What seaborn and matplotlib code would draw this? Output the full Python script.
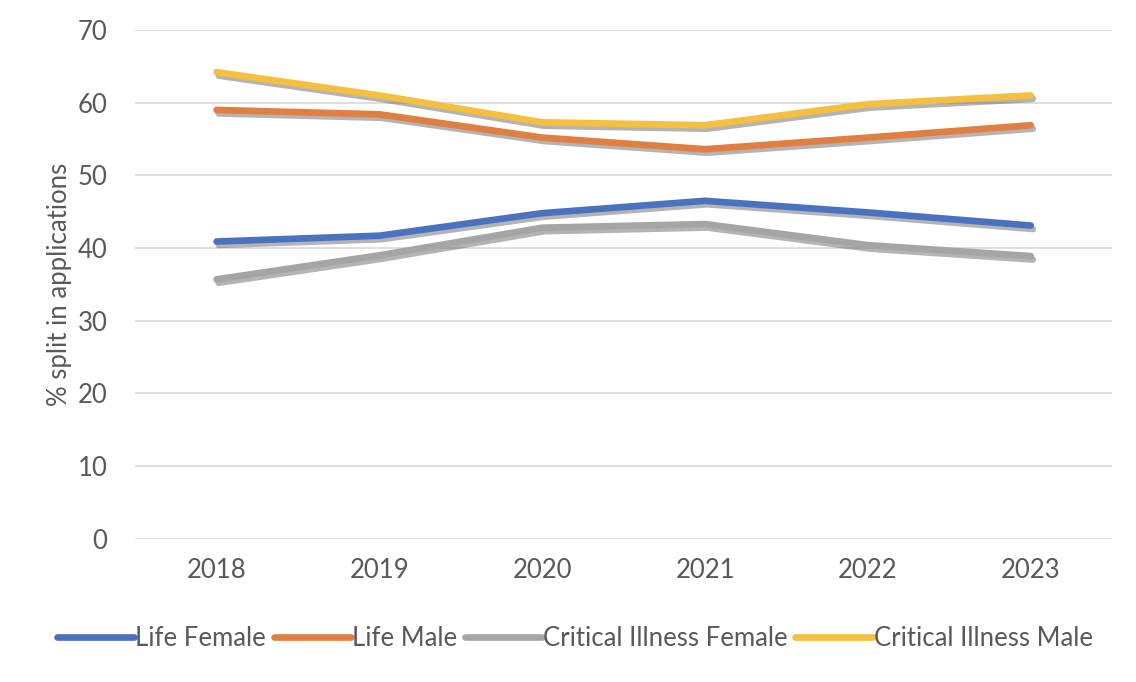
import pandas as pd
import matplotlib
matplotlib.use("Agg")
import matplotlib.pyplot as plt
import matplotlib.patheffects as pe
import seaborn as sns

years = ["2018", "2019", "2020", "2021", "2022", "2023"]
life_female = [40.9, 41.7, 44.8, 46.5, 44.9, 43.1]
life_male = [59.0, 58.4, 55.2, 53.6, 55.2, 56.9]
ci_female = [35.7, 39.0, 42.8, 43.3, 40.4, 38.9]
ci_male = [64.2, 61.0, 57.3, 56.9, 59.8, 61.0]

series = ["Life Female", "Life Male", "Critical Illness Female", "Critical Illness Male"]
colors = ["#4a72c1", "#e07f40", "#a5a5a5", "#f5bf40"]

rows = []
for name, vals in zip(series, [life_female, life_male, ci_female, ci_male]):
    for i, (yr, v) in enumerate(zip(years, vals)):
        rows.append({"idx": i, "Year": yr, "Series": name, "Value": v})
df = pd.DataFrame(rows)

sns.set_theme(style="white")
plt.rcParams["font.family"] = ["Lato", "DejaVu Sans"]

fig = plt.figure(figsize=(11.36, 6.82), dpi=100)
ax = fig.add_axes([0.119, 0.21, 0.86, 0.746])

sns.lineplot(data=df, x="idx", y="Value", hue="Series", hue_order=series,
             palette=colors, linewidth=4.8, ax=ax, legend=True)

# soft drop shadow like the original
for line in ax.get_lines():
    line.set_path_effects([pe.SimpleLineShadow(offset=(1.5, -2.5), shadow_color="#444444", alpha=0.4),
                           pe.Normal()])
    line.set_solid_capstyle("round")

ax.set_xlim(-0.5, 5.5)
ax.set_ylim(0, 70)
ax.set_yticks(range(0, 71, 10))
ax.set_xticks(range(len(years)))
ax.set_xticklabels(years)
ax.grid(axis="y", color="#d9d9d9", linewidth=1.2)
ax.set_axisbelow(True)
for s in ax.spines.values():
    s.set_visible(False)
ax.tick_params(axis="both", length=0, labelsize=18.5, labelcolor="#595959", pad=14)
ax.tick_params(axis="y", pad=20)
ax.set_xlabel("")
ax.set_ylabel("% split in applications", fontsize=18.5, color="#595959", labelpad=4)

handles, labels = ax.get_legend_handles_labels()
for h in handles:
    h.set_path_effects([])
    h.set_solid_capstyle("round")
ax.legend(handles, labels, loc="upper center", bbox_to_anchor=(0.45, -0.125), ncol=4,
          frameon=False, fontsize=18.5, labelcolor="#595959", handlelength=3.0,
          handletextpad=0.05, columnspacing=0.3)

fig.savefig("out.png", dpi=100)
